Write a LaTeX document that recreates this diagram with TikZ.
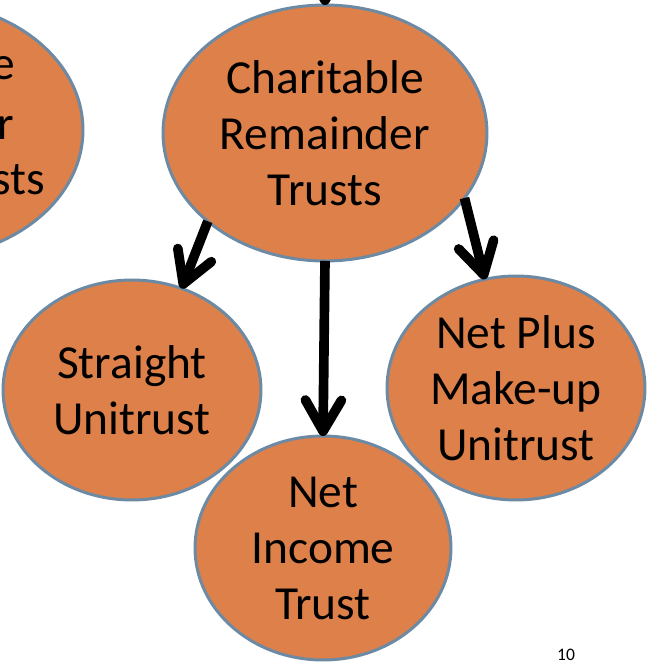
\documentclass[tikz,border=0pt]{standalone}
\usepackage{fontspec}
\setmainfont{Carlito}
\usetikzlibrary{shapes.geometric,arrows.meta}
\definecolor{trust_fill}{RGB}{221,128,73}
\definecolor{trust_edge}{RGB}{108,138,164}
\tikzset{trust_node/.style={ellipse, inner sep=0pt, outer sep=0pt, fill=trust_fill, draw=trust_edge, line width=1.7pt, align=center, font=\fontsize{27}{31.9}\selectfont}}
\tikzset{trust_text/.style={inner sep=0pt, font=\fontsize{27}{31.9}\selectfont}}
\tikzset{edge_arrow/.style={line width=5.5pt, color=black, -{Straight Barb[length=0.62cm,width=0.72cm,line cap=round,line join=round]}}}

\begin{document}
\begin{tikzpicture}[x=0.02cm,y=-0.02cm]
    \useasboundingbox (0,0) rectangle (648,664);
    \clip (0,0) rectangle (648,664);
    \node[trust_node, minimum width=6.48cm, minimum height=5.12cm] (other) at (-79,130) {};
    \node[trust_text, anchor=east] (other_a) at (15,68) {e};
    \node[trust_text, anchor=east] (other_b) at (14,128) {r};
    \node[trust_text, anchor=east] (other_c) at (45,180) {sts};
    \node[trust_node, minimum width=6.48cm, minimum height=5.12cm] (crt) at (325,133) {Charitable\\Remainder\\Trusts};
    \node[trust_node, minimum width=5.16cm, minimum height=4.4cm] (su) at (132,390) {Straight\\Unitrust};
    \node[trust_node, minimum width=5.12cm, minimum height=4.48cm] (nit) at (323,548) {Net\\Income\\Trust};
    \node[trust_node, minimum width=5.16cm, minimum height=4.48cm] (npm) at (516,388) {Net Plus\\Make-up\\Unitrust};
    \coordinate (from_above) at (325,-60);
    \draw[edge_arrow] (from_above) -- (crt.north);
    \draw[edge_arrow] (crt.217) -- (su.64);
    \draw[edge_arrow] (crt.south) -- (nit.north);
    \draw[edge_arrow] (crt.-25) -- (npm.106);
    \node[inner sep=0pt, font=\fontsize{10}{12}\selectfont] (page_no) at (566,655) {10};
\end{tikzpicture}
\end{document}
